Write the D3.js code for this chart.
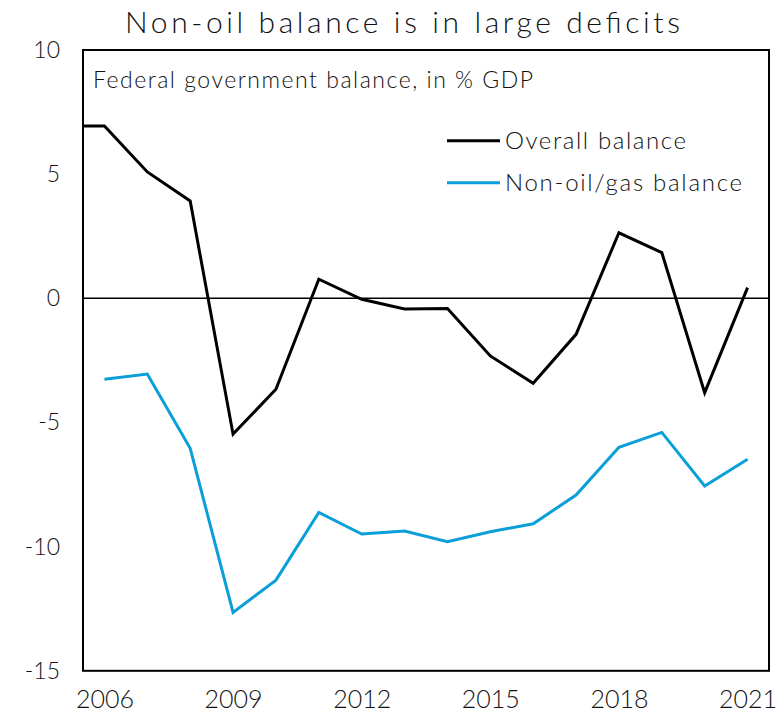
<!DOCTYPE html>
<html>
<head>
<meta charset="utf-8">
<script src="https://cdn.jsdelivr.net/npm/d3@7"></script>
<style>
  html, body { margin: 0; padding: 0; background: #fff; }
  svg { display: block; font-family: Lato, "Open Sans", sans-serif; font-weight: 300; }
</style>
</head>
<body>
<svg id="chart" width="779" height="718"></svg>
<script>
// Federal government balance, % of GDP
const years = [2005, 2006, 2007, 2008, 2009, 2010, 2011, 2012, 2013, 2014, 2015, 2016, 2017, 2018, 2019, 2020, 2021];
const overallBalance = [6.94, 6.94, 5.09, 3.92, -5.47, -3.66, 0.77, -0.04, -0.43, -0.41, -2.32, -3.42, -1.45, 2.64, 1.84, -3.80, 0.43];
const nonOilBalance = [null, -3.26, -3.05, -6.04, -12.65, -11.35, -8.62, -9.49, -9.37, -9.80, -9.40, -9.08, -7.92, -6.00, -5.40, -7.56, -6.48];
const xTickYears = [2006, 2009, 2012, 2015, 2018, 2021];
const yTickValues = [-15, -10, -5, 0, 5, 10];
const seriesNames = ["Overall balance", "Non-oil/gas balance"];
const seriesColors = ["#000000", "#0A9FD9"];
const titleText = "Non-oil balance is in large deficits";
const subtitleText = "Federal government balance, in % GDP";

const svg = d3.select("#chart");
const plot = { left: 83, right: 769, top: 50, bottom: 670.8 };

const x = d3.scaleLinear().domain([2005.5, 2021.5]).range([plot.left, plot.right]);
const y = d3.scaleLinear().domain([-15, 10]).range([plot.bottom, plot.top]);

svg.append("defs").append("clipPath").attr("id", "plot-clip")
  .append("rect")
  .attr("x", plot.left).attr("y", plot.top)
  .attr("width", plot.right - plot.left).attr("height", plot.bottom - plot.top);

// Title
svg.append("text")
  .attr("x", 125).attr("y", 33)
  .attr("textLength", 555).attr("lengthAdjust", "spacing")
  .attr("font-size", 30).attr("fill", "#111")
  .text(titleText);

// Zero line
svg.append("line")
  .attr("x1", plot.left).attr("x2", plot.right)
  .attr("y1", y(0)).attr("y2", y(0))
  .attr("stroke", "#000").attr("stroke-width", 1.5);

// Series lines
const series = [overallBalance, nonOilBalance];
const lineGen = d3.line()
  .defined(d => d.v !== null)
  .x(d => x(d.year))
  .y(d => y(d.v));

series.forEach((vals, i) => {
  const pts = years.map((yr, j) => ({ year: yr, v: vals[j] }));
  svg.append("path")
    .datum(pts)
    .attr("clip-path", "url(#plot-clip)")
    .attr("fill", "none")
    .attr("stroke", seriesColors[i])
    .attr("stroke-width", 3)
    .attr("stroke-linejoin", "miter")
    .attr("d", lineGen);
});

// Frame
svg.append("rect")
  .attr("x", plot.left).attr("y", plot.top)
  .attr("width", plot.right - plot.left).attr("height", plot.bottom - plot.top)
  .attr("fill", "none").attr("stroke", "#000").attr("stroke-width", 2);

// Plain hyphen for negative numbers
const numFmt = d => String(d);

// Y axis labels
const yAxis = d3.axisLeft(y).tickValues(yTickValues).tickSize(0).tickPadding(23).tickFormat(numFmt);
const yg = svg.append("g").attr("transform", `translate(${plot.left},0)`).call(yAxis);
yg.select(".domain").remove();
yg.selectAll("text").attr("font-size", 23).attr("font-family", "Lato, sans-serif").attr("font-weight", 300).attr("fill", "#111");

// X axis labels
const xAxis = d3.axisBottom(x).tickValues(xTickYears).tickSize(0).tickPadding(19).tickFormat(numFmt);
const xg = svg.append("g").attr("transform", `translate(0,${plot.bottom})`).call(xAxis);
xg.select(".domain").remove();
xg.selectAll("text").attr("font-size", 25).attr("font-family", "Lato, sans-serif").attr("font-weight", 300).attr("fill", "#111");

// Subtitle inside plot
svg.append("text")
  .attr("x", 93).attr("y", 88)
  .attr("textLength", 440).attr("lengthAdjust", "spacing")
  .attr("font-size", 23).attr("fill", "#111")
  .text(subtitleText);

// Legend
const legendRows = [140.7, 182.7];
const legendWidths = [181, 237];
seriesNames.forEach((name, i) => {
  svg.append("line")
    .attr("x1", 447).attr("x2", 500)
    .attr("y1", legendRows[i]).attr("y2", legendRows[i])
    .attr("stroke", seriesColors[i]).attr("stroke-width", 3);
  svg.append("text")
    .attr("x", 505).attr("y", legendRows[i] + 8)
    .attr("textLength", legendWidths[i]).attr("lengthAdjust", "spacing")
    .attr("font-size", 24).attr("fill", "#111")
    .text(name);
});
</script>
</body>
</html>
